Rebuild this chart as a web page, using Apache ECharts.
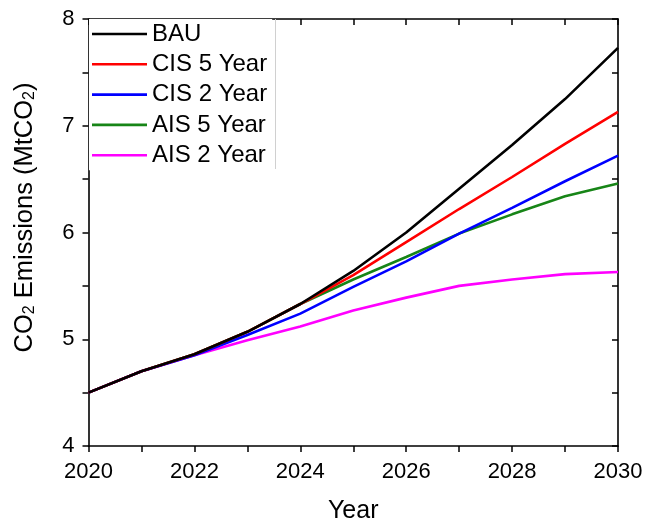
<!DOCTYPE html>
<html>
<head>
<meta charset="utf-8">
<script src="https://cdn.jsdelivr.net/npm/echarts@6/dist/echarts.min.js"></script>
<style>
  html, body { margin: 0; padding: 0; background: #fff; }
  #chart { width: 647px; height: 523px; }
</style>
</head>
<body>
<div id="chart"></div>
<script>
// Projected CO2 emissions (MtCO2) by scenario, 2020-2030
const years = [2020, 2021, 2022, 2023, 2024, 2025, 2026, 2027, 2028, 2029, 2030];
const bau   = [4.50, 4.70, 4.86, 5.07, 5.33, 5.64, 6.00, 6.41, 6.82, 7.25, 7.73];
const cis5  = [4.50, 4.70, 4.86, 5.07, 5.33, 5.60, 5.91, 6.22, 6.52, 6.83, 7.13];
const cis2  = [4.50, 4.70, 4.85, 5.04, 5.24, 5.49, 5.73, 5.99, 6.23, 6.48, 6.72];
const ais5  = [4.50, 4.70, 4.86, 5.07, 5.33, 5.56, 5.77, 5.99, 6.17, 6.34, 6.46];
const ais2  = [4.50, 4.70, 4.85, 4.99, 5.12, 5.27, 5.39, 5.50, 5.56, 5.61, 5.63];

const seriesNames = ['BAU', 'CIS 5 Year', 'CIS 2 Year', 'AIS 5 Year', 'AIS 2 Year'];
const seriesValues = [bau, cis5, cis2, ais5, ais2];
const seriesColors = ['#000000', '#ff0000', '#0000ff', '#178517', '#ff00ff'];

const FONT = 'Liberation Sans, Arial, sans-serif';
const chart = echarts.init(document.getElementById('chart'), null, { renderer: 'canvas' });

const axisLine = { show: true, onZero: false, lineStyle: { color: '#000', width: 1.6 } };
const tickStyle = { color: '#000', width: 1.5 };

const option = {
  backgroundColor: '#fff',
  animation: false,
  textStyle: { fontFamily: FONT },
  grid: { left: 88.5, right: 29, top: 19, bottom: 77, containLabel: false, outerBoundsMode: 'none' },
  legend: {
    left: 89, top: 19,
    orient: 'vertical',
    padding: [0, 5, 0, 3],
    backgroundColor: '#fff',
    icon: 'rect',
    itemWidth: 55, itemHeight: 2.6, itemGap: 0.3,
    textStyle: { fontFamily: FONT, fontSize: 24, color: '#000', lineHeight: 30 },
    data: seriesNames
  },
  xAxis: [{
    type: 'value', min: 2020, max: 2030, interval: 1,
    position: 'bottom',
    name: 'Year', nameLocation: 'middle', nameGap: 53,
    nameTextStyle: { fontFamily: FONT, fontSize: 25, color: '#000' },
    axisLine: axisLine,
    axisTick: { show: true, inside: false, length: 6, lineStyle: tickStyle },
    axisLabel: { fontFamily: FONT, fontSize: 22, color: '#000', margin: 15,
      formatter: v => (v % 2 === 0 ? String(v) : '') },
    splitLine: { show: false }
  }, {
    type: 'value', min: 2020, max: 2030, interval: 1,
    position: 'top',
    axisLine: axisLine,
    axisTick: { show: true, inside: true, length: 6, lineStyle: tickStyle },
    axisLabel: { show: false },
    splitLine: { show: false }
  }],
  yAxis: [{
    type: 'value', min: 4, max: 8, interval: 1,
    position: 'left',
    name: '{n|CO}{s|2}{n| Emissions (MtCO}{s|2}{n|)}',
    nameLocation: 'middle', nameGap: 47, nameRotate: 90,
    nameTextStyle: {
      fontFamily: FONT, color: '#000',
      padding: [0, 0, 0, 30],
      rich: {
        n: { fontFamily: FONT, fontSize: 25.5, color: '#000', lineHeight: 34, verticalAlign: 'middle' },
        s: { fontFamily: FONT, fontSize: 16, color: '#000', lineHeight: 16, verticalAlign: 'bottom', padding: [0, 0, 4, 0] }
      }
    },
    axisLine: axisLine,
    axisTick: { show: true, inside: false, length: 6, lineStyle: tickStyle },
    minorTick: { show: true, splitNumber: 2, length: 6, lineStyle: tickStyle },
    axisLabel: { fontFamily: FONT, fontSize: 22, color: '#000', margin: 14 },
    splitLine: { show: false }
  }, {
    type: 'value', min: 4, max: 8, interval: 1,
    position: 'right',
    axisLine: axisLine,
    axisTick: { show: true, inside: true, length: 6, lineStyle: tickStyle },
    minorTick: { show: true, splitNumber: 2, length: 6, lineStyle: tickStyle },
    axisLabel: { show: false },
    splitLine: { show: false }
  }],
  graphic: [{
    type: 'line', z: 100,
    shape: { x1: 275.5, y1: 19, x2: 275.5, y2: 169 },
    style: { stroke: '#d0d0d0', lineWidth: 1 }
  }],
  series: seriesNames.map((name, i) => ({
    name: name,
    type: 'line',
    xAxisIndex: 0, yAxisIndex: 0,
    data: years.map((y, k) => [y, seriesValues[i][k]]),
    symbol: 'none',
    showSymbol: false,
    smooth: false,
    z: 10 - i,
    lineStyle: { color: seriesColors[i], width: 2.6 },
    itemStyle: { color: seriesColors[i] }
  })).reverse()
};

chart.setOption(option);
</script>
</body>
</html>
